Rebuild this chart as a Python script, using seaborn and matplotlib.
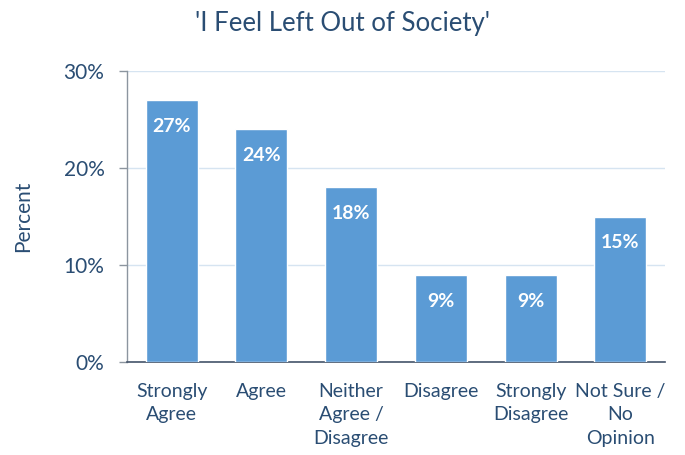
import matplotlib
matplotlib.use("Agg")
import matplotlib.pyplot as plt
import seaborn as sns
import pandas as pd
from matplotlib.ticker import PercentFormatter

categories = ["Strongly\nAgree", "Agree", "Neither\nAgree /\nDisagree", "Disagree",
              "Strongly\nDisagree", "Not Sure /\nNo\nOpinion"]
percents = [27, 24, 18, 9, 9, 15]
y_ticks = [0, 10, 20, 30]

TEXT = "#2A4D73"
BAR = "#5B9BD5"

sns.set_style("white")
plt.rcParams["font.family"] = ["Lato", "DejaVu Sans"]

df = pd.DataFrame({"Response": categories, "Percent": percents})

fig = plt.figure(figsize=(6.85, 4.55), dpi=100)
ax = fig.add_axes([0.185, 0.204, 0.786, 0.64])

sns.barplot(data=df, x="Response", y="Percent", color=BAR, saturation=1,
            width=0.58, ax=ax, zorder=3)

for bar, val in zip(ax.patches, percents):
    ax.text(bar.get_x() + bar.get_width() / 2, val - 2.7, f"{val}%",
            ha="center", va="center", color="white", fontsize=14, fontweight="bold", zorder=4)

ax.set_ylim(0, 30)
ax.set_yticks(y_ticks)
ax.yaxis.set_major_formatter(PercentFormatter(decimals=0))
ax.grid(axis="y", color="#D6E4F1", linewidth=1, zorder=0)
ax.set_axisbelow(True)

for s in ["top", "right"]:
    ax.spines[s].set_visible(False)
ax.spines["left"].set_color("#8C959F")
ax.spines["bottom"].set_color("#44546A")
ax.spines["left"].set_linewidth(1)
ax.spines["bottom"].set_linewidth(1.2)

ax.tick_params(axis="y", which="major", length=6, width=1, color="#8C959F",
               labelsize=15, labelcolor=TEXT, pad=10, left=True)
ax.tick_params(axis="x", length=0, labelsize=14, labelcolor=TEXT, pad=15)
for lbl in ax.get_xticklabels():
    lbl.set_linespacing(1.45)
    lbl.set_verticalalignment("top")

ax.set_xlabel("")
ax.set_ylabel("Percent", fontsize=15, color=TEXT, labelpad=22)
fig.suptitle("'I Feel Left Out of Society'", fontsize=18.5, color=TEXT, y=0.975)

fig.savefig("out.png", dpi=100)
